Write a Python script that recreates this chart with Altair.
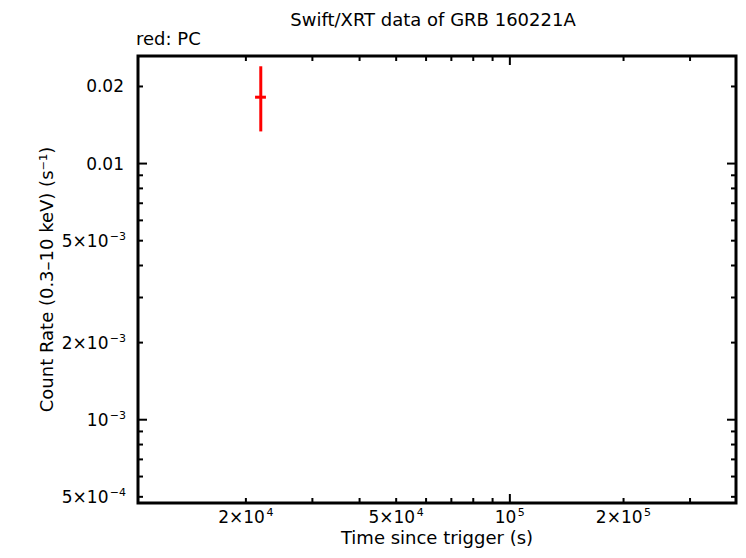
import altair as alt
import pandas as pd

# ---- data ----
time = [21900.0]
time_lo = [21150.0]
time_hi = [22600.0]
rate = [0.01816]
rate_lo = [0.01335]
rate_hi = [0.02398]

x_domain = [10360.0, 397000.0]
y_domain = [0.000473, 0.0263]

# tick labels (mantissa + superscript exponent)
x_mult_vals = [20000, 50000, 200000]
x_mult_mant = ["2×10", "5×10", "2×10"]
x_mult_exp = ["4", "4", "5"]
x_pow_vals = [100000]
x_pow_mant = ["10"]
x_pow_exp = ["5"]

y_plain_vals = [0.02, 0.01]
y_plain_text = ["0.02", "0.01"]
y_exp_vals = [0.005, 0.002, 0.001, 0.0005]
y_exp_mant = ["5×10", "2×10", "10", "5×10"]
y_exp_exp = ["−3", "−3", "−3", "−4"]

x_minor_ticks = [20000, 30000, 40000, 50000, 60000, 70000, 80000, 90000, 200000, 300000]
x_major_ticks = [100000]
y_minor_ticks = [0.02, 0.009, 0.008, 0.007, 0.006, 0.005, 0.004, 0.003, 0.002,
                 0.0009, 0.0008, 0.0007, 0.0006, 0.0005]
y_major_ticks = [0.01, 0.001]

title_text = "Swift/XRT data of GRB 160221A"
legend_text = "red: PC"
x_title = "Time since trigger (s)"
y_title = "Count Rate (0.3–10 keV) (s⁻¹)"

W, H = 598, 447
FONT = "DejaVu Sans"
FS_T = 18   # titles
FS_L = 17   # tick labels
FS_E = 11   # exponents

pts = pd.DataFrame({"t": time, "tlo": time_lo, "thi": time_hi,
                    "r": rate, "rlo": rate_lo, "rhi": rate_hi})

xs = alt.Scale(type="log", domain=x_domain, nice=False)
ys = alt.Scale(type="log", domain=y_domain, nice=False)

def X(f):
    return alt.X(f, type="quantitative", scale=xs, axis=None)

def Y(f):
    return alt.Y(f, type="quantitative", scale=ys, axis=None)

vbar = alt.Chart(pts).mark_rule(color="red", strokeWidth=3).encode(
    x=X("t"), y=Y("rlo"), y2="rhi")
hbar = alt.Chart(pts).mark_rule(color="red", strokeWidth=3).encode(
    x=X("tlo"), x2="thi", y=Y("r"))

def xticks(vals, length):
    df = pd.DataFrame({"v": vals})
    bottom = alt.Chart(df).mark_rule(color="black", strokeWidth=2).encode(
        x=X("v"), y=alt.value(H), y2=alt.value(H - length))
    top = alt.Chart(df).mark_rule(color="black", strokeWidth=2).encode(
        x=X("v"), y=alt.value(0), y2=alt.value(length))
    return [bottom, top]

def yticks(vals, length):
    df = pd.DataFrame({"v": vals})
    left = alt.Chart(df).mark_rule(color="black", strokeWidth=2).encode(
        y=Y("v"), x=alt.value(0), x2=alt.value(length))
    right = alt.Chart(df).mark_rule(color="black", strokeWidth=2).encode(
        y=Y("v"), x=alt.value(W), x2=alt.value(W - length))
    return [left, right]

def txt(**kw):
    base = dict(font=FONT, color="black", baseline="alphabetic")
    base.update(kw)
    return base

# x tick labels
xm = pd.DataFrame({"v": x_mult_vals, "m": x_mult_mant, "e": x_mult_exp})
xp = pd.DataFrame({"v": x_pow_vals, "m": x_pow_mant, "e": x_pow_exp})
x_labels = [
    alt.Chart(xm).mark_text(**txt(align="right", fontSize=FS_L, dx=19)).encode(
        x=X("v"), y=alt.value(H + 20), text="m:N"),
    alt.Chart(xm).mark_text(**txt(align="left", fontSize=FS_E, dx=20.5)).encode(
        x=X("v"), y=alt.value(H + 12.5), text="e:N"),
    alt.Chart(xp).mark_text(**txt(align="right", fontSize=FS_L, dx=6.5)).encode(
        x=X("v"), y=alt.value(H + 20), text="m:N"),
    alt.Chart(xp).mark_text(**txt(align="left", fontSize=FS_E, dx=8)).encode(
        x=X("v"), y=alt.value(H + 12.5), text="e:N"),
]

# y tick labels
yp = pd.DataFrame({"v": y_plain_vals, "m": y_plain_text})
ye = pd.DataFrame({"v": y_exp_vals, "m": y_exp_mant, "e": y_exp_exp})
y_labels = [
    alt.Chart(yp).mark_text(**txt(align="right", fontSize=FS_L, dy=6)).encode(
        y=Y("v"), x=alt.value(-14), text="m:N"),
    alt.Chart(ye).mark_text(**txt(align="right", fontSize=FS_L, dy=6)).encode(
        y=Y("v"), x=alt.value(-29.5), text="m:N"),
    alt.Chart(ye).mark_text(**txt(align="right", fontSize=FS_E, dy=-1)).encode(
        y=Y("v"), x=alt.value(-12), text="e:N"),
]

# titles
texts = pd.DataFrame({"title": [title_text], "legend": [legend_text],
                      "xt": [x_title], "yt": [y_title]})
title_layers = [
    alt.Chart(texts).mark_text(**txt(align="center", fontSize=FS_T, dx=-4)).encode(
        x=alt.value(W / 2), y=alt.value(-30), text="title:N"),
    alt.Chart(texts).mark_text(**txt(align="left", fontSize=FS_T)).encode(
        x=alt.value(-2), y=alt.value(-11), text="legend:N"),
    alt.Chart(texts).mark_text(**txt(align="center", fontSize=FS_T)).encode(
        x=alt.value(W / 2), y=alt.value(H + 41), text="xt:N"),
    alt.Chart(texts).mark_text(**txt(align="center", fontSize=FS_T, angle=270)).encode(
        x=alt.value(-85), y=alt.value(H / 2), text="yt:N"),
]

layers = [vbar, hbar] + xticks(x_minor_ticks, 5) + xticks(x_major_ticks, 9) \
    + yticks(y_minor_ticks, 5) + yticks(y_major_ticks, 9) \
    + x_labels + y_labels + title_layers

chart = alt.layer(*layers).properties(
    width=W, height=H,
    autosize=alt.AutoSizeParams(type="none"),
    padding={"left": 130, "top": 48, "right": 2, "bottom": 47},
).configure(background="white").configure_view(stroke="black", strokeWidth=3)

chart.save("out.html", embed_options={"renderer": "svg", "actions": False})
